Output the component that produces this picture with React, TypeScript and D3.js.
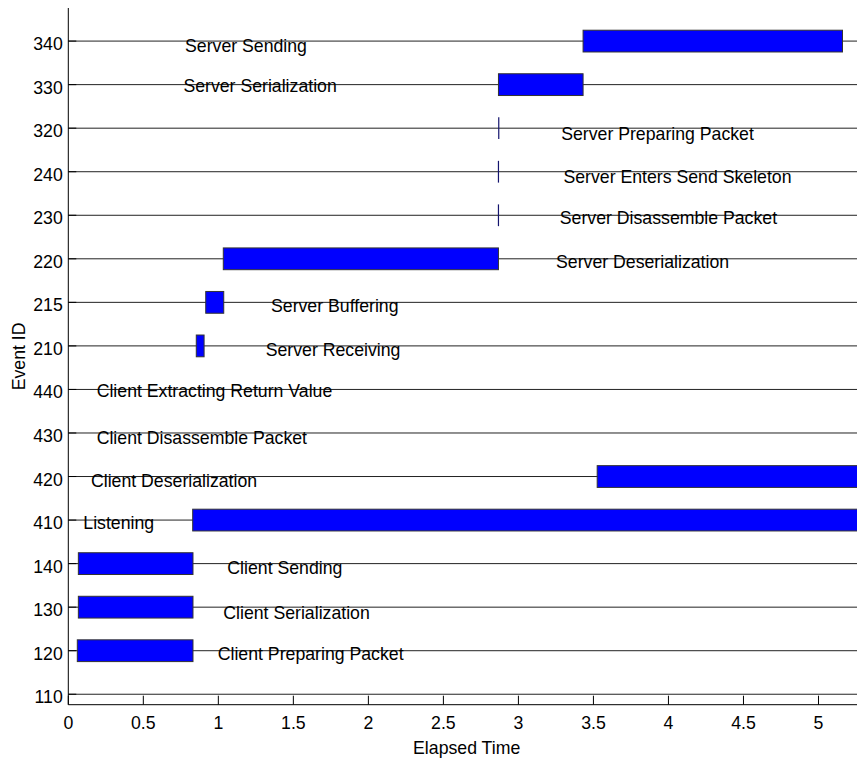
import React from "react";
import * as d3 from "d3";

// Event rows, bottom to top
const eventIds = [110, 120, 130, 140, 410, 420, 430, 440, 210, 215, 220, 230, 240, 320, 330, 340];

// Timeline segments (event, start, end) in elapsed time
const barEvent = [340, 330, 320, 240, 230, 220, 215, 210, 420, 410, 140, 130, 120];
const barStart = [3.431, 2.867, 2.869, 2.867, 2.867, 1.033, 0.916, 0.853, 3.525, 0.829, 0.067, 0.067, 0.06];
const barEnd = [5.16, 3.431, 2.869, 2.867, 2.867, 2.867, 1.036, 0.905, 5.45, 5.45, 0.831, 0.831, 0.831];

// Annotation text per event row
const labelEvent = [340, 330, 320, 240, 230, 220, 215, 210, 440, 430, 420, 410, 140, 130, 120];
const labelText = [
  "Server Sending",
  "Server Serialization",
  "Server Preparing Packet",
  "Server Enters Send Skeleton",
  "Server Disassemble Packet",
  "Server Deserialization",
  "Server Buffering",
  "Server Receiving",
  "Client Extracting Return Value",
  "Client Disassemble Packet",
  "Client Deserialization",
  "Listening",
  "Client Sending",
  "Client Serialization",
  "Client Preparing Packet",
];
// left edge of each annotation (elapsed time) and baseline drop below its row (row units)
const labelTime = [0.778, 0.767, 3.285, 3.3, 3.276, 3.251, 1.351, 1.316, 0.189, 0.189, 0.151, 0.1, 1.06, 1.033, 0.996];
const labelDrop = [0.246, 0.17, 0.282, 0.266, 0.202, 0.218, 0.216, 0.232, 0.165, 0.253, 0.232, 0.204, 0.237, 0.271, 0.212];

const xTicks = [0, 0.5, 1, 1.5, 2, 2.5, 3, 3.5, 4, 4.5, 5];

const W = 857;
const H = 759;
const FONT = "'Liberation Sans', Arial, Helvetica, sans-serif";
const FS = 17.7;

export default function App() {
  const left = 68.3;
  const right = 865;
  const top = 8;
  const bottom = 704.7;

  const x = d3.scaleLinear().domain([0, 5.31]).range([left, right]);
  const y = d3.scaleLinear().domain([-0.24, 15.76]).range([bottom, top]);
  const row = (id: number) => eventIds.indexOf(id);
  const halfH = 0.25;

  return (
    <svg
      width={W}
      height={H}
      style={{ position: "absolute", left: 0, top: 0, background: "#fff" }}
      fontFamily={FONT}
      fontSize={FS}
    >
      <rect x={0} y={0} width={W} height={H} fill="#fff" />
      {/* row lines */}
      {eventIds.map((id, i) => (
        <line key={"g" + id} x1={left} x2={W} y1={y(i)} y2={y(i)} stroke="#222" strokeWidth={1} />
      ))}
      {/* segments */}
      {barEvent.map((id, i) => {
        const r = row(id);
        const x0 = x(barStart[i]);
        const x1 = x(barEnd[i]);
        if (x1 - x0 < 0.5) {
          return (
            <line
              key={"b" + i}
              x1={x0}
              x2={x0}
              y1={y(r + halfH)}
              y2={y(r - halfH)}
              stroke="#14146e"
              strokeWidth={1.2}
            />
          );
        }
        return (
          <rect
            key={"b" + i}
            x={x0}
            y={y(r + halfH)}
            width={x1 - x0}
            height={y(r - halfH) - y(r + halfH)}
            fill="#0000ff"
            stroke="#333"
            strokeWidth={1}
          />
        );
      })}
      {/* annotations */}
      {labelEvent.map((id, i) => (
        <text key={"t" + i} x={x(labelTime[i])} y={y(row(id) - labelDrop[i])} fill="#000">
          {labelText[i]}
        </text>
      ))}
      {/* axes */}
      <line x1={left} x2={left} y1={top} y2={bottom} stroke="#000" strokeWidth={1} />
      <line x1={left} x2={W} y1={bottom} y2={bottom} stroke="#000" strokeWidth={1} />
      {eventIds.map((id, i) => (
        <g key={"yt" + id}>
          <line x1={left} x2={left + 8} y1={y(i)} y2={y(i)} stroke="#000" />
          <text x={left - 5.5} y={y(i) + 9} textAnchor="end" fill="#000">
            {id}
          </text>
        </g>
      ))}
      {xTicks.map((t) => (
        <g key={"xt" + t}>
          <line x1={x(t)} x2={x(t)} y1={bottom} y2={bottom - 9} stroke="#000" />
          <text x={x(t)} y={729} textAnchor="middle" fill="#000">
            {t}
          </text>
        </g>
      ))}
      <text x={(left + right) / 2} y={754} textAnchor="middle" fill="#000">
        Elapsed Time
      </text>
      <text
        transform={`translate(25,${(top + bottom) / 2}) rotate(-90)`}
        textAnchor="middle"
        fill="#000"
      >
        Event ID
      </text>
    </svg>
  );
}
